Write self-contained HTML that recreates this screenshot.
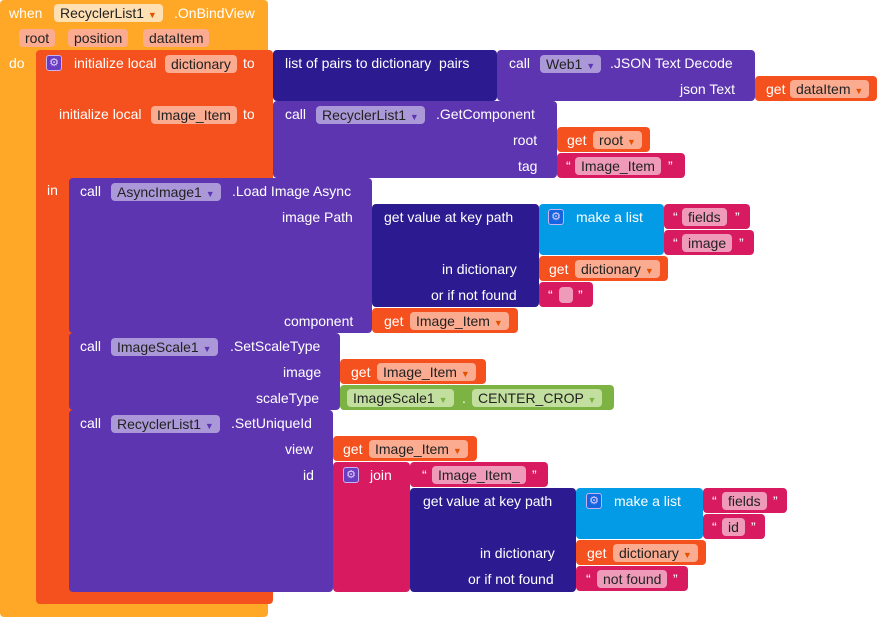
<!DOCTYPE html>
<html><head><meta charset="utf-8"><style>
*{margin:0;padding:0;box-sizing:border-box}
body{width:880px;height:617px;background:#fff;position:relative;overflow:hidden;font-family:"Liberation Sans",sans-serif;font-size:14px;color:#fff}
.b{position:absolute;border-radius:4px}
.t{position:absolute;line-height:18px;white-space:nowrap}
.p{position:absolute;height:18px;line-height:18px;border-radius:4px;color:#222;padding:0 6px;white-space:nowrap}
.g{position:absolute;width:16px;height:16px;border-radius:3px;background:#6a3ec0;border:1px solid #c7b3f0;color:#e0d0ff;font-size:11px;line-height:14px;text-align:center}
.o{background:#ffa726}.r{background:#f4511e}.d{background:#2c1a91}.u{background:#5e35b1}.k{background:#d81b60}.c{background:#039be5}.gr{background:#7cb342}
.po{background:#ffe0b2}.pr{background:#fbab90}.pu{background:#ab98d8}.pk{background:#f09ab9}.pg{background:#c3df9f}
.a{font-size:9px;color:#e65100}
</style></head><body>
<div class="b o" style="left:0;top:0;width:268px;height:617px"></div>
<div class="t" style="left:9px;top:4px">when</div>
<div class="p po" style="left:54px;top:4px">RecyclerList1 <span class="a">▼</span></div>
<div class="t" style="left:174px;top:4px">.OnBindView</div>
<div class="p pr" style="left:19px;top:29px">root</div>
<div class="p pr" style="left:68px;top:29px">position</div>
<div class="p pr" style="left:143px;top:29px">dataItem</div>
<div class="t" style="left:9px;top:54px">do</div>

<div class="b r" style="left:36px;top:50px;width:237px;height:554px"></div>
<div class="g" style="left:46px;top:55px">⚙</div>
<div class="t" style="left:74px;top:54px">initialize local</div>
<div class="p pr" style="left:165px;top:55px">dictionary</div>
<div class="t" style="left:243px;top:54px">to</div>
<div class="t" style="left:59px;top:105px">initialize local</div>
<div class="p pr" style="left:151px;top:106px">Image_Item</div>
<div class="t" style="left:243px;top:105px">to</div>
<div class="t" style="left:47px;top:181px">in</div>

<div class="b d" style="left:273px;top:50px;width:224px;height:51px"></div>
<div class="t" style="left:285px;top:54px">list of pairs to dictionary &nbsp;pairs</div>
<div class="b u" style="left:497px;top:50px;width:258px;height:51px"></div>
<div class="t" style="left:509px;top:54px">call</div>
<div class="p pu" style="left:540px;top:55px">Web1 <span class="a" style="color:#5e35b1">▼</span></div>
<div class="t" style="left:610px;top:54px">.JSON Text Decode</div>
<div class="t" style="left:680px;top:80px">json Text</div>
<div class="b r" style="left:755px;top:76px;width:122px;height:25px"></div>
<div class="t" style="left:766px;top:80px">get</div>
<div class="p pr" style="left:790px;top:80px">dataItem <span class="a">▼</span></div>

<div class="b u" style="left:273px;top:101px;width:284px;height:77px"></div>
<div class="t" style="left:285px;top:105px">call</div>
<div class="p pu" style="left:316px;top:106px">RecyclerList1 <span class="a" style="color:#5e35b1">▼</span></div>
<div class="t" style="left:436px;top:105px">.GetComponent</div>
<div class="t" style="left:513px;top:131px">root</div>
<div class="b r" style="left:557px;top:127px;width:93px;height:25px"></div>
<div class="t" style="left:567px;top:131px">get</div>
<div class="p pr" style="left:593px;top:131px">root <span class="a">▼</span></div>
<div class="t" style="left:518px;top:157px">tag</div>
<div class="b k" style="left:557px;top:153px;width:128px;height:25px"></div>
<div class="t" style="left:566px;top:157px">“</div>
<div class="p pk" style="left:575px;top:157px">Image_Item</div>
<div class="t" style="left:668px;top:157px">”</div>

<div class="b u" style="left:69px;top:178px;width:303px;height:155px"></div>
<div class="t" style="left:80px;top:182px">call</div>
<div class="p pu" style="left:111px;top:183px">AsyncImage1 <span class="a" style="color:#5e35b1">▼</span></div>
<div class="t" style="left:232px;top:182px">.Load Image Async</div>
<div class="t" style="left:282px;top:208px">image Path</div>
<div class="t" style="left:284px;top:312px">component</div>
<div class="b r" style="left:372px;top:308px;width:146px;height:25px"></div>
<div class="t" style="left:384px;top:312px">get</div>
<div class="p pr" style="left:410px;top:312px">Image_Item <span class="a">▼</span></div>
<div class="b d" style="left:372px;top:204px;width:167px;height:103px"></div>
<div class="t" style="left:384px;top:208px">get value at key path</div>
<div class="t" style="left:442px;top:260px">in dictionary</div>
<div class="t" style="left:431px;top:286px">or if not found</div>
<div class="b c" style="left:539px;top:204px;width:125px;height:51px"></div>
<div class="g" style="left:548px;top:209px;background:#1565e0">⚙</div>
<div class="t" style="left:576px;top:208px">make a list</div>
<div class="b k" style="left:664px;top:204px;width:86px;height:25px"></div>
<div class="t" style="left:673px;top:208px">“</div>
<div class="p pk" style="left:682px;top:208px">fields</div>
<div class="t" style="left:735px;top:208px">”</div>
<div class="b k" style="left:664px;top:230px;width:90px;height:25px"></div>
<div class="t" style="left:673px;top:234px">“</div>
<div class="p pk" style="left:682px;top:234px">image</div>
<div class="t" style="left:739px;top:234px">”</div>
<div class="b r" style="left:539px;top:256px;width:129px;height:25px"></div>
<div class="t" style="left:549px;top:260px">get</div>
<div class="p pr" style="left:575px;top:260px">dictionary <span class="a">▼</span></div>
<div class="b k" style="left:539px;top:282px;width:54px;height:25px"></div>
<div class="t" style="left:548px;top:286px">“</div>
<div class="p pk" style="left:559px;top:287px;width:14px;height:16px"></div>
<div class="t" style="left:578px;top:286px">”</div>

<div class="b u" style="left:69px;top:333px;width:271px;height:77px"></div>
<div class="t" style="left:80px;top:337px">call</div>
<div class="p pu" style="left:111px;top:338px">ImageScale1 <span class="a" style="color:#5e35b1">▼</span></div>
<div class="t" style="left:230px;top:337px">.SetScaleType</div>
<div class="t" style="left:283px;top:363px">image</div>
<div class="b r" style="left:340px;top:359px;width:146px;height:25px"></div>
<div class="t" style="left:351px;top:363px">get</div>
<div class="p pr" style="left:377px;top:363px">Image_Item <span class="a">▼</span></div>
<div class="t" style="left:256px;top:389px">scaleType</div>
<div class="b gr" style="left:340px;top:385px;width:274px;height:25px"></div>
<div class="p pg" style="left:347px;top:389px">ImageScale1 <span class="a" style="color:#7cb342">▼</span></div>
<div class="t" style="left:462px;top:389px">.</div>
<div class="p pg" style="left:472px;top:389px">CENTER_CROP <span class="a" style="color:#7cb342">▼</span></div>

<div class="b u" style="left:69px;top:410px;width:264px;height:182px"></div>
<div class="t" style="left:80px;top:414px">call</div>
<div class="p pu" style="left:111px;top:415px">RecyclerList1 <span class="a" style="color:#5e35b1">▼</span></div>
<div class="t" style="left:231px;top:414px">.SetUniqueId</div>
<div class="t" style="left:285px;top:440px">view</div>
<div class="b r" style="left:333px;top:436px;width:144px;height:25px"></div>
<div class="t" style="left:343px;top:440px">get</div>
<div class="p pr" style="left:369px;top:440px">Image_Item <span class="a">▼</span></div>
<div class="t" style="left:303px;top:466px">id</div>
<div class="b k" style="left:333px;top:462px;width:77px;height:130px"></div>
<div class="g" style="left:343px;top:467px">⚙</div>
<div class="t" style="left:370px;top:466px">join</div>
<div class="b k" style="left:410px;top:462px;width:138px;height:25px"></div>
<div class="t" style="left:422px;top:466px">“</div>
<div class="p pk" style="left:432px;top:466px">Image_Item_</div>
<div class="t" style="left:532px;top:466px">”</div>
<div class="b d" style="left:410px;top:488px;width:166px;height:104px"></div>
<div class="t" style="left:423px;top:492px">get value at key path</div>
<div class="t" style="left:480px;top:544px">in dictionary</div>
<div class="t" style="left:468px;top:570px">or if not found</div>
<div class="b c" style="left:576px;top:488px;width:127px;height:51px"></div>
<div class="g" style="left:586px;top:493px;background:#1565e0">⚙</div>
<div class="t" style="left:614px;top:492px">make a list</div>
<div class="b k" style="left:703px;top:488px;width:84px;height:25px"></div>
<div class="t" style="left:712px;top:492px">“</div>
<div class="p pk" style="left:722px;top:492px">fields</div>
<div class="t" style="left:773px;top:492px">”</div>
<div class="b k" style="left:703px;top:514px;width:62px;height:25px"></div>
<div class="t" style="left:712px;top:518px">“</div>
<div class="p pk" style="left:722px;top:518px">id</div>
<div class="t" style="left:751px;top:518px">”</div>
<div class="b r" style="left:576px;top:540px;width:130px;height:25px"></div>
<div class="t" style="left:587px;top:544px">get</div>
<div class="p pr" style="left:613px;top:544px">dictionary <span class="a">▼</span></div>
<div class="b k" style="left:576px;top:566px;width:112px;height:25px"></div>
<div class="t" style="left:586px;top:570px">“</div>
<div class="p pk" style="left:597px;top:570px">not found</div>
<div class="t" style="left:673px;top:570px">”</div>
</body></html>
